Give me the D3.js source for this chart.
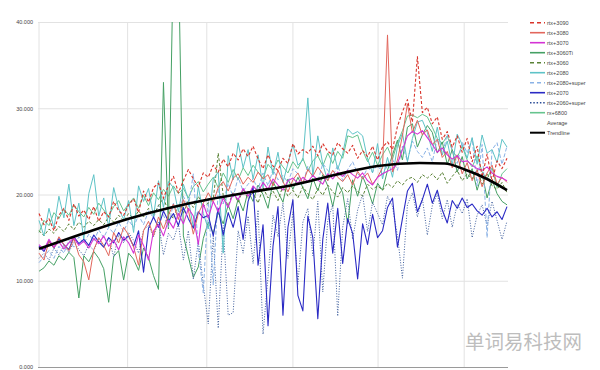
<!DOCTYPE html>
<html>
<head>
<meta charset="utf-8">
<script src="https://cdn.jsdelivr.net/npm/d3@7"></script>
<style>
  html, body { margin: 0; padding: 0; background: #fff; }
  svg { display: block; font-family: "Liberation Sans", Arial, sans-serif; }
</style>
</head>
<body>
<div id="chart"></div>
<script>
/* values, one point every ~5px of x */
const rtx3090 = [17.8,16.5,17.2,15.8,17.6,18.4,17.0,18.9,17.5,18.2,
  17.1,18.6,16.9,18.0,17.4,19.2,18.1,17.6,
  18.8,19.5,17.9,20.4,19.1,20.8,21.3,19.6,
  21.0,22.1,20.2,21.6,22.9,21.8,20.9,22.5,
  22.0,23.4,22.6,24.1,23.2,24.8,24.0,25.3,24.4,
  25.6,24.1,23.0,24.6,23.3,22.8,24.2,23.6,25.9,
  24.7,25.2,24.8,25.6,24.5,25.9,25.0,24.6,26.0,
  25.3,24.8,25.7,24.2,25.1,24.4,25.6,24.0,
  25.5,26.1,25.2,27.9,29.6,31.0,28.4,36.0,29.5,
  30.1,28.2,29.0,26.4,27.3,25.5,26.8,24.9,26.5,
  23.8,25.6,22.0,24.7,21.5,23.9,23.0,24.2];
const rtx3080 = [13.2,12.4,14.6,13.8,15.1,14.2,13.5,14.9,13.0,12.2,
  10.1,13.6,15.0,14.1,12.9,15.6,14.4,16.2,
  15.3,13.9,11.8,15.8,16.9,15.2,17.4,16.0,
  17.6,18.9,17.1,19.4,18.2,15.4,17.8,19.0,
  20.2,19.1,20.8,21.5,20.4,21.9,22.4,21.2,22.0,
  21.4,22.6,21.8,22.3,21.0,22.8,21.5,20.3,21.7,
  22.5,21.3,22.9,22.1,23.2,22.4,21.6,22.8,22.0,
  21.5,22.3,21.1,22.7,21.8,22.5,21.2,22.0,
  23.1,38.5,22.6,24.0,26.8,30.5,27.2,28.6,26.9,
  27.5,25.8,26.4,24.3,25.0,23.1,24.6,22.4,23.7,
  21.6,22.8,20.9,22.5,23.4,21.2,22.0,21.4];
const rtx3070 = [14.2,13.6,14.8,13.9,14.5,13.7,14.4,15.0,14.1,14.6,
  13.8,14.9,14.3,15.2,14.0,14.7,13.6,15.1,
  14.4,13.2,15.3,14.1,12.4,15.8,16.5,15.2,
  17.0,16.1,17.8,16.6,18.4,17.5,14.2,18.9,
  17.3,19.2,18.0,19.6,18.5,20.1,19.4,20.7,19.8,
  21.0,20.3,21.4,20.6,21.8,21.1,20.5,21.6,21.9,
  21.3,22.0,21.5,22.2,21.7,21.2,22.4,21.8,22.6,
  22.1,22.8,22.3,21.9,22.5,21.6,21.1,22.0,
  22.4,22.7,23.0,23.6,25.2,26.8,27.3,27.0,27.4,
  26.6,25.8,24.9,25.4,24.6,24.1,24.5,23.8,23.9,
  23.4,23.0,22.8,23.2,22.5,22.1,21.9,21.6];
const rtx3060ti = [11.1,11.5,12.3,11.8,12.9,12.4,13.3,12.7,8.0,12.9,
  12.2,13.4,12.6,11.4,7.5,12.8,13.5,10.1,
  13.2,12.5,11.2,13.8,12.7,10.6,9.0,33.0,
  16.0,48.0,48.0,15.2,12.8,10.4,11.6,14.9,
  16.8,15.5,17.9,16.6,18.8,17.2,19.5,18.1,20.4,
  19.2,21.1,20.0,18.4,21.5,20.3,19.1,21.8,20.6,
  22.0,20.8,19.5,21.9,20.4,22.3,21.0,18.6,21.4,
  20.2,16.6,21.7,19.8,22.1,20.7,18.9,21.3,
  20.5,22.8,24.6,26.3,24.0,27.8,28.2,25.5,26.9,
  28.0,27.2,24.8,26.1,23.5,25.2,22.6,24.4,21.8,
  23.0,20.5,22.4,19.6,21.7,20.1,19.2,18.8];
const rtx3060 = [15.8,15.2,16.0,15.5,16.3,15.7,16.6,15.9,16.8,16.2,
  16.9,16.4,17.1,16.5,17.4,16.8,17.6,16.9,
  17.8,17.2,18.1,17.4,18.4,17.6,18.7,19.6,
  18.0,17.2,18.9,17.8,19.3,18.5,19.8,18.6,
  19.0,19.4,24.8,19.9,18.7,20.3,19.1,20.6,19.5,
  20.2,19.0,20.8,19.6,20.4,19.3,21.0,19.8,20.5,
  19.6,20.9,20.1,19.4,20.7,19.9,21.1,20.3,19.7,
  20.8,20.2,21.0,20.4,19.8,21.2,20.6,21.0,
  20.5,21.3,20.8,21.6,21.1,21.8,22.0,21.4,22.3,
  21.9,22.4,21.7,22.6,21.3,22.1,22.8,21.6,22.4,
  21.8,22.9,21.2,22.5,21.0,20.6,21.4,20.2];
const rtx2080 = [17.0,15.2,18.4,16.1,19.8,17.3,21.2,16.4,19.0,14.8,
  20.1,22.3,17.5,19.6,16.2,20.8,18.4,17.1,
  19.3,15.6,21.0,19.2,20.7,17.4,21.6,18.5,
  21.5,20.8,18.0,21.2,19.4,16.2,20.9,17.8,
  16.0,21.8,22.6,13.2,24.5,21.7,26.0,23.1,25.2,
  21.8,24.6,20.8,25.5,22.3,24.9,21.4,23.6,25.8,
  23.4,24.0,31.2,22.1,26.8,23.5,21.6,25.4,22.9,
  24.7,27.6,27.0,27.3,26.8,24.1,22.5,25.9,
  21.8,24.3,22.0,25.6,27.1,23.8,26.5,28.4,28.6,
  27.2,25.0,27.8,24.6,26.2,23.4,27.0,25.8,24.2,
  26.6,23.5,26.9,24.8,25.2,23.7,26.4,25.5];
const rtx2080s = [12.1,12.8,13.5,12.6,14.0,13.2,14.7,13.9,15.1,14.3,
  15.4,14.6,15.9,15.0,16.2,15.5,16.8,15.7,
  17.0,16.2,17.6,16.5,18.1,17.3,18.8,17.6,
  16.2,19.0,17.5,19.8,18.6,22.4,13.5,8.6,
  19.5,9.5,20.6,18.9,21.3,19.7,22.0,20.4,21.2,
  21.8,20.6,22.5,21.0,22.9,21.7,22.2,21.4,23.0,
  22.4,21.2,23.3,22.0,21.5,23.6,22.8,22.1,23.4,
  21.6,22.9,23.8,22.4,21.9,23.1,22.6,23.5,
  22.2,23.4,24.1,22.8,25.6,23.9,26.2,25.0,24.3,
  25.4,23.8,26.5,24.6,27.0,25.2,23.6,26.1,24.8,
  26.5,21.0,25.8,15.0,25.2,26.0,23.5,25.6];
const rtx2070 = [14.0,13.4,14.6,13.8,14.9,14.2,13.6,15.1,14.3,14.8,
  14.1,15.3,14.5,13.9,15.0,14.4,15.6,14.7,
  15.2,14.0,15.8,11.0,16.1,17.4,16.2,18.1,
  16.9,17.8,16.4,18.5,17.2,16.1,18.0,17.3,
  17.6,15.2,18.4,15.3,17.9,16.2,18.6,14.8,19.2,
  20.9,11.8,16.5,4.8,14.0,18.6,6.0,16.2,19.4,
  8.3,6.5,17.5,15.0,5.6,14.8,19.0,13.2,18.4,
  12.0,17.2,15.5,10.2,16.6,14.2,17.7,15.0,
  15.8,18.5,19.6,13.9,17.2,20.4,21.3,18.0,19.4,
  21.2,19.0,20.5,18.2,16.7,19.3,18.4,19.6,18.5,
  18.9,18.1,17.6,18.4,17.4,18.0,17.1,18.6];
const rtx2060s = [12.6,13.2,12.4,13.8,13.0,14.1,13.3,14.5,13.6,12.9,
  14.2,13.5,14.8,13.9,15.0,12.8,15.3,14.4,
  15.6,14.7,13.2,15.9,16.4,15.1,16.8,13.0,
  15.5,14.7,16.6,12.4,15.8,10.2,14.6,9.5,
  5.0,15.2,4.5,16.4,6.0,6.3,15.8,13.2,17.5,
  12.0,18.2,3.8,10.5,17.6,15.1,19.0,12.6,18.0,
  9.6,16.8,18.4,12.9,19.2,8.7,17.0,18.8,5.9,
  16.2,19.5,14.8,18.2,20.0,15.7,19.1,17.8,
  16.5,19.8,18.6,15.2,10.3,18.8,20.2,17.4,19.6,
  15.3,18.7,20.1,17.2,19.4,16.2,18.9,17.8,19.5,
  15.0,17.6,18.8,16.4,19.2,17.0,14.8,16.9];
const rx6800 = [15.6,17.0,16.4,17.9,17.2,18.3,17.6,18.8,18.0,17.4,
  18.5,17.7,19.0,18.2,17.5,18.6,19.3,18.1,
  18.9,19.6,18.4,19.9,18.7,20.2,19.4,20.6,
  19.8,21.0,20.1,20.7,19.6,20.9,21.5,20.3,
  21.2,22.0,20.8,22.5,21.4,22.9,21.7,23.1,22.2,
  23.4,22.6,21.9,23.5,22.8,24.0,23.2,22.5,23.8,
  23.0,24.2,22.7,23.9,24.5,23.3,24.8,23.6,25.0,
  24.2,26.8,26.6,26.9,25.1,23.8,24.9,23.4,
  24.6,25.5,24.1,26.0,27.4,29.1,29.2,28.9,29.3,
  29.0,27.8,26.5,25.9,26.8,25.1,24.3,25.6,24.0,
  23.2,24.5,22.6,21.8,23.1,20.8,22.4,23.0];

// trendline: index -> value
const trendIdx = [0, 9, 18, 26.5, 33.8, 42.6, 51, 59.6, 68, 76.5, 81.5, 85.5, 90, 94];
const trendVal = [13.7, 15.5, 17.2, 18.5, 19.4, 20.3, 21.1, 22.3, 23.3, 23.65, 23.6, 22.9, 21.8, 20.5];

const seriesNames = ["rtx+3090","rtx+3080","rtx+3070","rtx+3060Ti","rtx+3060","rtx+2080","rtx+2080+super","rtx+2070","rtx+2060+super","rx+6800","Average","Trendline"];
const yTicks = [0, 10, 20, 30, 40];
const xGridIdx = [0, 17.8, 33.7, 51, 68.1, 85.4];

const w = 600, h = 370;
const padL = 39, padR = 507, padT = 22, padB = 367;

const svg = d3.select("#chart").append("svg")
  .attr("width", w).attr("height", h);

const x = d3.scaleLinear().domain([0, rtx3090.length - 1]).range([padL, padR]);
const y = d3.scaleLinear().domain([0, 40]).range([padB, padT]);

svg.append("defs").append("clipPath").attr("id", "plot")
  .append("rect").attr("x", padL - 2).attr("y", padT).attr("width", padR - padL + 4).attr("height", padB - padT);

// grid
svg.append("g")
  .attr("transform", "translate(" + (padL - 1) + ",0)")
  .call(d3.axisLeft(y).tickValues(yTicks).tickSize(-(padR - padL + 2)).tickFormat(d3.format(".3f")))
  .call(g => g.select(".domain").remove())
  .call(g => g.selectAll("line").attr("stroke", "#e2e2e2"))
  .call(g => g.selectAll("text").attr("x", -5).attr("fill", "#444").style("font-size", "5.5px"));

svg.append("g")
  .selectAll("line").data(xGridIdx).enter().append("line")
  .attr("x1", d => x(d)).attr("x2", d => x(d))
  .attr("y1", padT).attr("y2", padB)
  .attr("stroke", "#e2e2e2");

svg.append("line")
  .attr("x1", padL - 1).attr("x2", padR + 1).attr("y1", padB + 0.5).attr("y2", padB + 0.5)
  .attr("stroke", "#9a9a9a").attr("stroke-width", 1.2);

const series = [
  {name: seriesNames[9], data: rx6800, color: "#66c48e", dash: null, width: 1},
  {name: seriesNames[3], data: rtx3060ti, color: "#45a064", dash: null, width: 1},
  {name: seriesNames[8], data: rtx2060s, color: "#3f5f9e", dash: "1,1.6", width: 1},
  {name: seriesNames[6], data: rtx2080s, color: "#8ab2e6", dash: "4,2", width: 1},
  {name: seriesNames[4], data: rtx3060, color: "#5a8236", dash: "3,2", width: 1},
  {name: seriesNames[5], data: rtx2080, color: "#5ec3c7", dash: null, width: 1},
  {name: seriesNames[7], data: rtx2070, color: "#2a2ac4", dash: null, width: 1.1},
  {name: seriesNames[1], data: rtx3080, color: "#e2665c", dash: null, width: 1},
  {name: seriesNames[2], data: rtx3070, color: "#d433d4", dash: null, width: 1.1},
  {name: seriesNames[0], data: rtx3090, color: "#d9342b", dash: "3,2", width: 1.1}
];

const line = d3.line().x((d, i) => x(i)).y(d => y(d));
const plot = svg.append("g").attr("clip-path", "url(#plot)");

series.forEach(s => {
  plot.append("path")
    .attr("d", line(s.data))
    .attr("fill", "none")
    .attr("stroke", s.color)
    .attr("stroke-width", s.width)
    .attr("stroke-dasharray", s.dash)
    .attr("stroke-linejoin", "round");
});

const trendPts = trendIdx.map((t, i) => [t, trendVal[i]]);
plot.append("path")
  .attr("d", d3.line().x(d => x(d[0])).y(d => y(d[1])).curve(d3.curveMonotoneX)(trendPts))
  .attr("fill", "none").attr("stroke", "#000").attr("stroke-width", 2.6);

// legend
const legendStyle = {
  "rtx+3090": ["#d9342b", "4,3"], "rtx+3080": ["#e2665c", null], "rtx+3070": ["#d433d4", null],
  "rtx+3060Ti": ["#45a064", null], "rtx+3060": ["#5a8236", "4,3"], "rtx+2080": ["#5ec3c7", null],
  "rtx+2080+super": ["#8ab2e6", "4,3"], "rtx+2070": ["#2a2ac4", null], "rtx+2060+super": ["#2b4c96", "1.5,1.8"],
  "rx+6800": ["#66c48e", null], "Average": [null, null], "Trendline": ["#000", null]
};
const lg = svg.append("g").selectAll("g").data(seriesNames).enter().append("g")
  .attr("transform", (d, i) => "translate(530," + (22.7 + i * 10) + ")");
lg.filter(d => legendStyle[d][0]).append("line")
  .attr("x1", 0).attr("x2", 15).attr("y1", 0).attr("y2", 0)
  .attr("stroke", d => legendStyle[d][0])
  .attr("stroke-width", d => d === "Trendline" ? 2 : 1.6)
  .attr("stroke-dasharray", d => legendStyle[d][1]);
lg.append("text")
  .attr("x", 17).attr("y", 2)
  .attr("fill", "#444").style("font-size", "5.5px")
  .text(d => d);

svg.append("text")
  .attr("x", 465).attr("y", 349)
  .attr("fill", "#bdbdbd")
  .style("font-family", "'Noto Sans CJK SC', sans-serif")
  .style("font-size", "19.5px")
  .text("单词易科技网");
</script>
</body>
</html>
